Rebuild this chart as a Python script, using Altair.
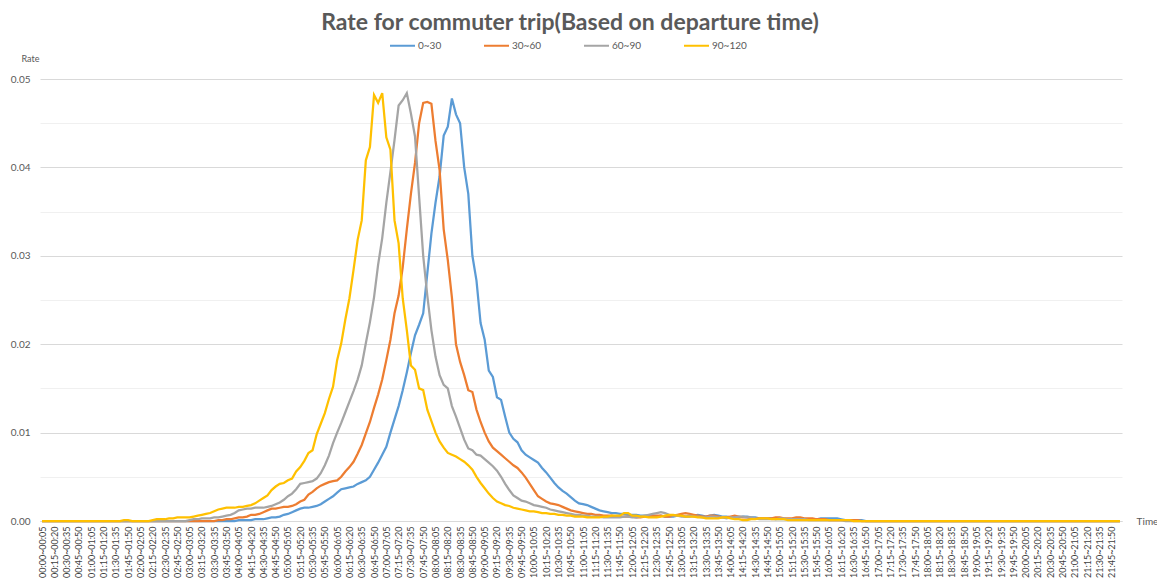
import altair as alt
import pandas as pd

# ---------------- data ----------------
SERIES = ["0~30", "30~60", "60~90", "90~120"]
COLORS = ["#5B9BD5", "#ED7D31", "#A5A5A5", "#FFC000"]

# 5-minute departure slots 00:00~00:05 ... 21:55~22:00
categories = []
for k in range(264):
    s, e = k * 5, k * 5 + 5
    categories.append(f"{s // 60:02d}:{s % 60:02d}~{e // 60:02d}:{e % 60:02d}")
tick_labels = categories[::3]

# rates in units of 1e-4, one value per slot
rate_0_30 = [
    0, 0, 0, 0, 0, 0, 0, 0, 0, 0, 0, 0, 0, 0, 0, 0, 0, 0, 0, 0,
    0, 0, 0, 0, 0, 0, 0, 0, 0, 0, 0, 0, 0, 0, 0, 0, 0, 0, 0, 0,
    0, 0, 0, 0, 0, 0, 0, 0, 1, 1, 1, 1, 2, 2, 2, 3, 4, 4, 5, 7,
    8, 10, 12, 14, 15, 15, 16, 17, 19, 22, 25, 28, 32, 36, 37, 38, 39, 42, 44, 46,
    50, 58, 66, 75, 84, 100, 115, 130, 148, 168, 190, 210, 222, 235, 280, 325, 360, 390, 436, 446,
    478, 460, 450, 400, 370, 300, 272, 224, 205, 170, 163, 140, 137, 118, 100, 93, 89, 80, 75, 72,
    69, 66, 60, 55, 49, 43, 38, 34, 31, 27, 23, 20, 19, 18, 16, 14, 12, 11, 10, 9,
    9, 8, 8, 7, 7, 7, 6, 6, 6, 5, 5, 6, 5, 5, 5, 6, 6, 5, 5, 6,
    7, 6, 5, 6, 7, 6, 5, 5, 4, 4, 4, 5, 5, 4, 4, 3, 3, 3, 3, 2,
    2, 2, 2, 2, 2, 2, 2, 2, 2, 2, 3, 3, 3, 3, 3, 2, 1, 1, 1, 1,
    1, 0, 0, 0, 0, 0, 0, 0, 0, 0, 0, 0, 0, 0, 0, 0, 0, 0, 0, 0,
    0, 0, 0, 0, 0, 0, 0, 0, 0, 0, 0, 0, 0, 0, 0, 0, 0, 0, 0, 0,
    0, 0, 0, 0, 0, 0, 0, 0, 0, 0, 0, 0, 0, 0, 0, 0, 0, 0, 0, 0,
    0, 0, 0, 0,
]
rate_30_60 = [
    0, 0, 0, 0, 0, 0, 0, 0, 0, 0, 0, 0, 0, 0, 0, 0, 0, 0, 0, 0,
    0, 0, 0, 0, 0, 0, 0, 0, 0, 0, 0, 0, 0, 0, 0, 0, 0, 0, 0, 0,
    0, 0, 0, 1, 1, 2, 2, 3, 4, 4, 5, 7, 7, 8, 10, 12, 14, 14, 15, 16,
    16, 17, 19, 22, 24, 30, 33, 37, 40, 42, 44, 45, 46, 50, 56, 61, 67, 76, 86, 99,
    112, 128, 143, 160, 182, 205, 235, 255, 287, 330, 370, 405, 450, 473, 474, 472, 430, 397, 330, 295,
    253, 200, 180, 165, 148, 146, 126, 112, 100, 90, 83, 79, 75, 71, 67, 63, 60, 55, 49, 42,
    35, 28, 25, 22, 20, 19, 18, 16, 14, 12, 11, 10, 9, 8, 8, 7, 7, 6, 6, 6,
    5, 5, 5, 5, 5, 4, 4, 5, 5, 6, 6, 6, 5, 5, 6, 7, 8, 9, 8, 7,
    6, 5, 5, 6, 6, 5, 4, 4, 5, 6, 5, 4, 4, 3, 3, 3, 3, 3, 3, 4,
    4, 3, 3, 3, 4, 4, 3, 3, 3, 2, 2, 2, 1, 1, 1, 1, 1, 1, 1, 1,
    0, 0, 0, 0, 0, 0, 0, 0, 0, 0, 0, 0, 0, 0, 0, 0, 0, 0, 0, 0,
    0, 0, 0, 0, 0, 0, 0, 0, 0, 0, 0, 0, 0, 0, 0, 0, 0, 0, 0, 0,
    0, 0, 0, 0, 0, 0, 0, 0, 0, 0, 0, 0, 0, 0, 0, 0, 0, 0, 0, 0,
    0, 0, 0, 0,
]
rate_60_90 = [
    0, 0, 0, 0, 0, 0, 0, 0, 0, 0, 0, 0, 0, 0, 0, 0, 0, 0, 0, 0,
    0, 0, 0, 0, 0, 0, 0, 0, 0, 0, 0, 0, 0, 0, 0, 0, 1, 2, 2, 3,
    3, 3, 4, 4, 5, 6, 7, 9, 12, 13, 14, 14, 15, 15, 15, 16, 17, 19, 21, 24,
    28, 31, 36, 42, 43, 44, 45, 48, 54, 63, 74, 88, 100, 111, 123, 135, 147, 160, 176, 201,
    225, 253, 290, 320, 360, 395, 431, 470, 476, 484, 461, 435, 367, 300, 255, 216, 186, 165, 154, 150,
    130, 118, 105, 92, 82, 80, 75, 74, 70, 66, 62, 57, 50, 42, 35, 29, 26, 23, 22, 20,
    18, 17, 16, 15, 13, 12, 11, 10, 9, 8, 7, 7, 6, 6, 5, 5, 5, 4, 4, 4,
    4, 4, 5, 5, 4, 4, 5, 6, 7, 8, 9, 10, 9, 7, 6, 6, 5, 5, 6, 5,
    5, 4, 4, 5, 5, 4, 4, 3, 4, 4, 5, 5, 4, 4, 3, 2, 2, 2, 2, 2,
    3, 3, 2, 2, 2, 2, 2, 1, 1, 1, 1, 1, 1, 1, 1, 1, 0, 0, 0, 0,
    0, 0, 0, 0, 0, 0, 0, 0, 0, 0, 0, 0, 0, 0, 0, 0, 0, 0, 0, 0,
    0, 0, 0, 0, 0, 0, 0, 0, 0, 0, 0, 0, 0, 0, 0, 0, 0, 0, 0, 0,
    0, 0, 0, 0, 0, 0, 0, 0, 0, 0, 0, 0, 0, 0, 0, 0, 0, 0, 0, 0,
    0, 0, 0, 0,
]
rate_90_120 = [
    0, 0, 0, 0, 0, 0, 0, 0, 0, 0, 0, 0, 0, 0, 0, 0, 0, 0, 0, 0,
    1, 1, 0, 0, 0, 0, 0, 1, 2, 2, 2, 3, 3, 4, 4, 4, 4, 5, 6, 7,
    8, 9, 11, 13, 14, 15, 15, 15, 16, 16, 17, 18, 20, 23, 26, 29, 35, 39, 42, 43,
    46, 48, 56, 61, 68, 77, 80, 98, 110, 122, 138, 152, 182, 201, 228, 252, 284, 318, 340, 408,
    423, 482, 473, 484, 434, 420, 340, 314, 252, 216, 176, 171, 150, 148, 126, 113, 100, 90, 83, 77,
    75, 73, 70, 67, 63, 58, 50, 43, 37, 31, 26, 22, 20, 18, 17, 15, 14, 13, 12, 11,
    11, 10, 9, 9, 8, 8, 7, 7, 6, 6, 5, 5, 5, 4, 4, 4, 4, 5, 5, 6,
    6, 6, 9, 9, 6, 6, 5, 5, 4, 4, 4, 5, 6, 7, 7, 6, 6, 5, 5, 5,
    4, 4, 3, 3, 3, 3, 4, 4, 3, 2, 2, 1, 1, 2, 2, 3, 3, 3, 2, 2,
    2, 2, 1, 1, 1, 1, 1, 1, 1, 1, 1, 1, 1, 1, 1, 1, 1, 1, 0, 0,
    0, 0, 0, 0, 0, 0, 0, 0, 0, 0, 0, 0, 0, 0, 0, 0, 0, 0, 0, 0,
    0, 0, 0, 0, 0, 0, 0, 0, 0, 0, 0, 0, 0, 0, 0, 0, 0, 0, 0, 0,
    0, 0, 0, 0, 0, 0, 0, 0, 0, 0, 0, 0, 0, 0, 0, 0, 0, 0, 0, 0,
    0, 0, 0, 0,
]

y_ticks = [0, 0.005, 0.01, 0.015, 0.02, 0.025, 0.03, 0.035, 0.04, 0.045, 0.05]

rows = []
for name, vals in zip(SERIES, [rate_0_30, rate_30_60, rate_60_90, rate_90_120]):
    assert len(vals) == len(categories)
    for cat, v in zip(categories, vals):
        rows.append({"Time": cat, "Series": name, "Rate": v / 10000})
df = pd.DataFrame(rows)

minor = "round(datum.value * 1000) % 10 != 0"

chart = (
    alt.Chart(df)
    .mark_line(strokeWidth=2.25)
    .encode(
        x=alt.X(
            "Time:N",
            sort=categories,
            scale=alt.Scale(type="point", padding=0.5),
            axis=alt.Axis(
                values=tick_labels,
                labelAngle=-90,
                labelFontSize=9,
                labelColor="#404040",
                labelOverlap=False,
                labelPadding=5,
                ticks=False,
                grid=False,
                domainColor="#d9d9d9",
                title="Time",
                titleX=1107,
                titleY=0,
                titleAngle=0,
                titleAlign="center",
                titleBaseline="middle",
                titleFontSize=10,
                titleFontWeight="normal",
                titleColor="#595959",
            ),
        ),
        y=alt.Y(
            "Rate:Q",
            scale=alt.Scale(domain=[0, 0.05], nice=False),
            axis=alt.Axis(
                values=y_ticks,
                labelExpr=f"{minor} ? '' : format(datum.value, '.2f')",
                gridColor={"condition": {"test": minor, "value": "#f0f0f0"}, "value": "#d9d9d9"},
                domain=False,
                ticks=False,
                labelPadding=10,
                labelFontSize=10,
                labelColor="#595959",
                title="Rate",
                titleAngle=0,
                titleX=-10,
                titleY=-21,
                titleAlign="center",
                titleBaseline="middle",
                titleFontSize=9,
                titleFontWeight="normal",
                titleColor="#595959",
            ),
        ),
        color=alt.Color(
            "Series:N",
            scale=alt.Scale(domain=SERIES, range=COLORS),
            legend=alt.Legend(
                title=None,
                orient="none",
                legendX=349,
                legendY=-47,
                direction="horizontal",
                symbolType="stroke",
                symbolSize=625,
                symbolStrokeWidth=2,
                labelFontSize=10,
                labelColor="#595959",
                labelOffset=2,
                columnPadding=38,
            ),
        ),
    )
    .properties(
        width=1082,
        height=442,
        autosize=alt.AutoSizeParams(type="none"),
        padding={"left": 32, "top": 71, "right": 35, "bottom": 57},
        title=alt.TitleParams(
            "Rate for commuter trip(Based on departure time)",
            fontSize=23,
            fontWeight="bold",
            color="#595959",
            anchor="middle",
            frame="group",
            dx=-11,
            dy=3,
            offset=0,
        ),
    )
    .configure(font="Lato")
    .configure_view(stroke=None)
)

chart.save("out.html", embed_options={"renderer": "svg", "actions": False})
